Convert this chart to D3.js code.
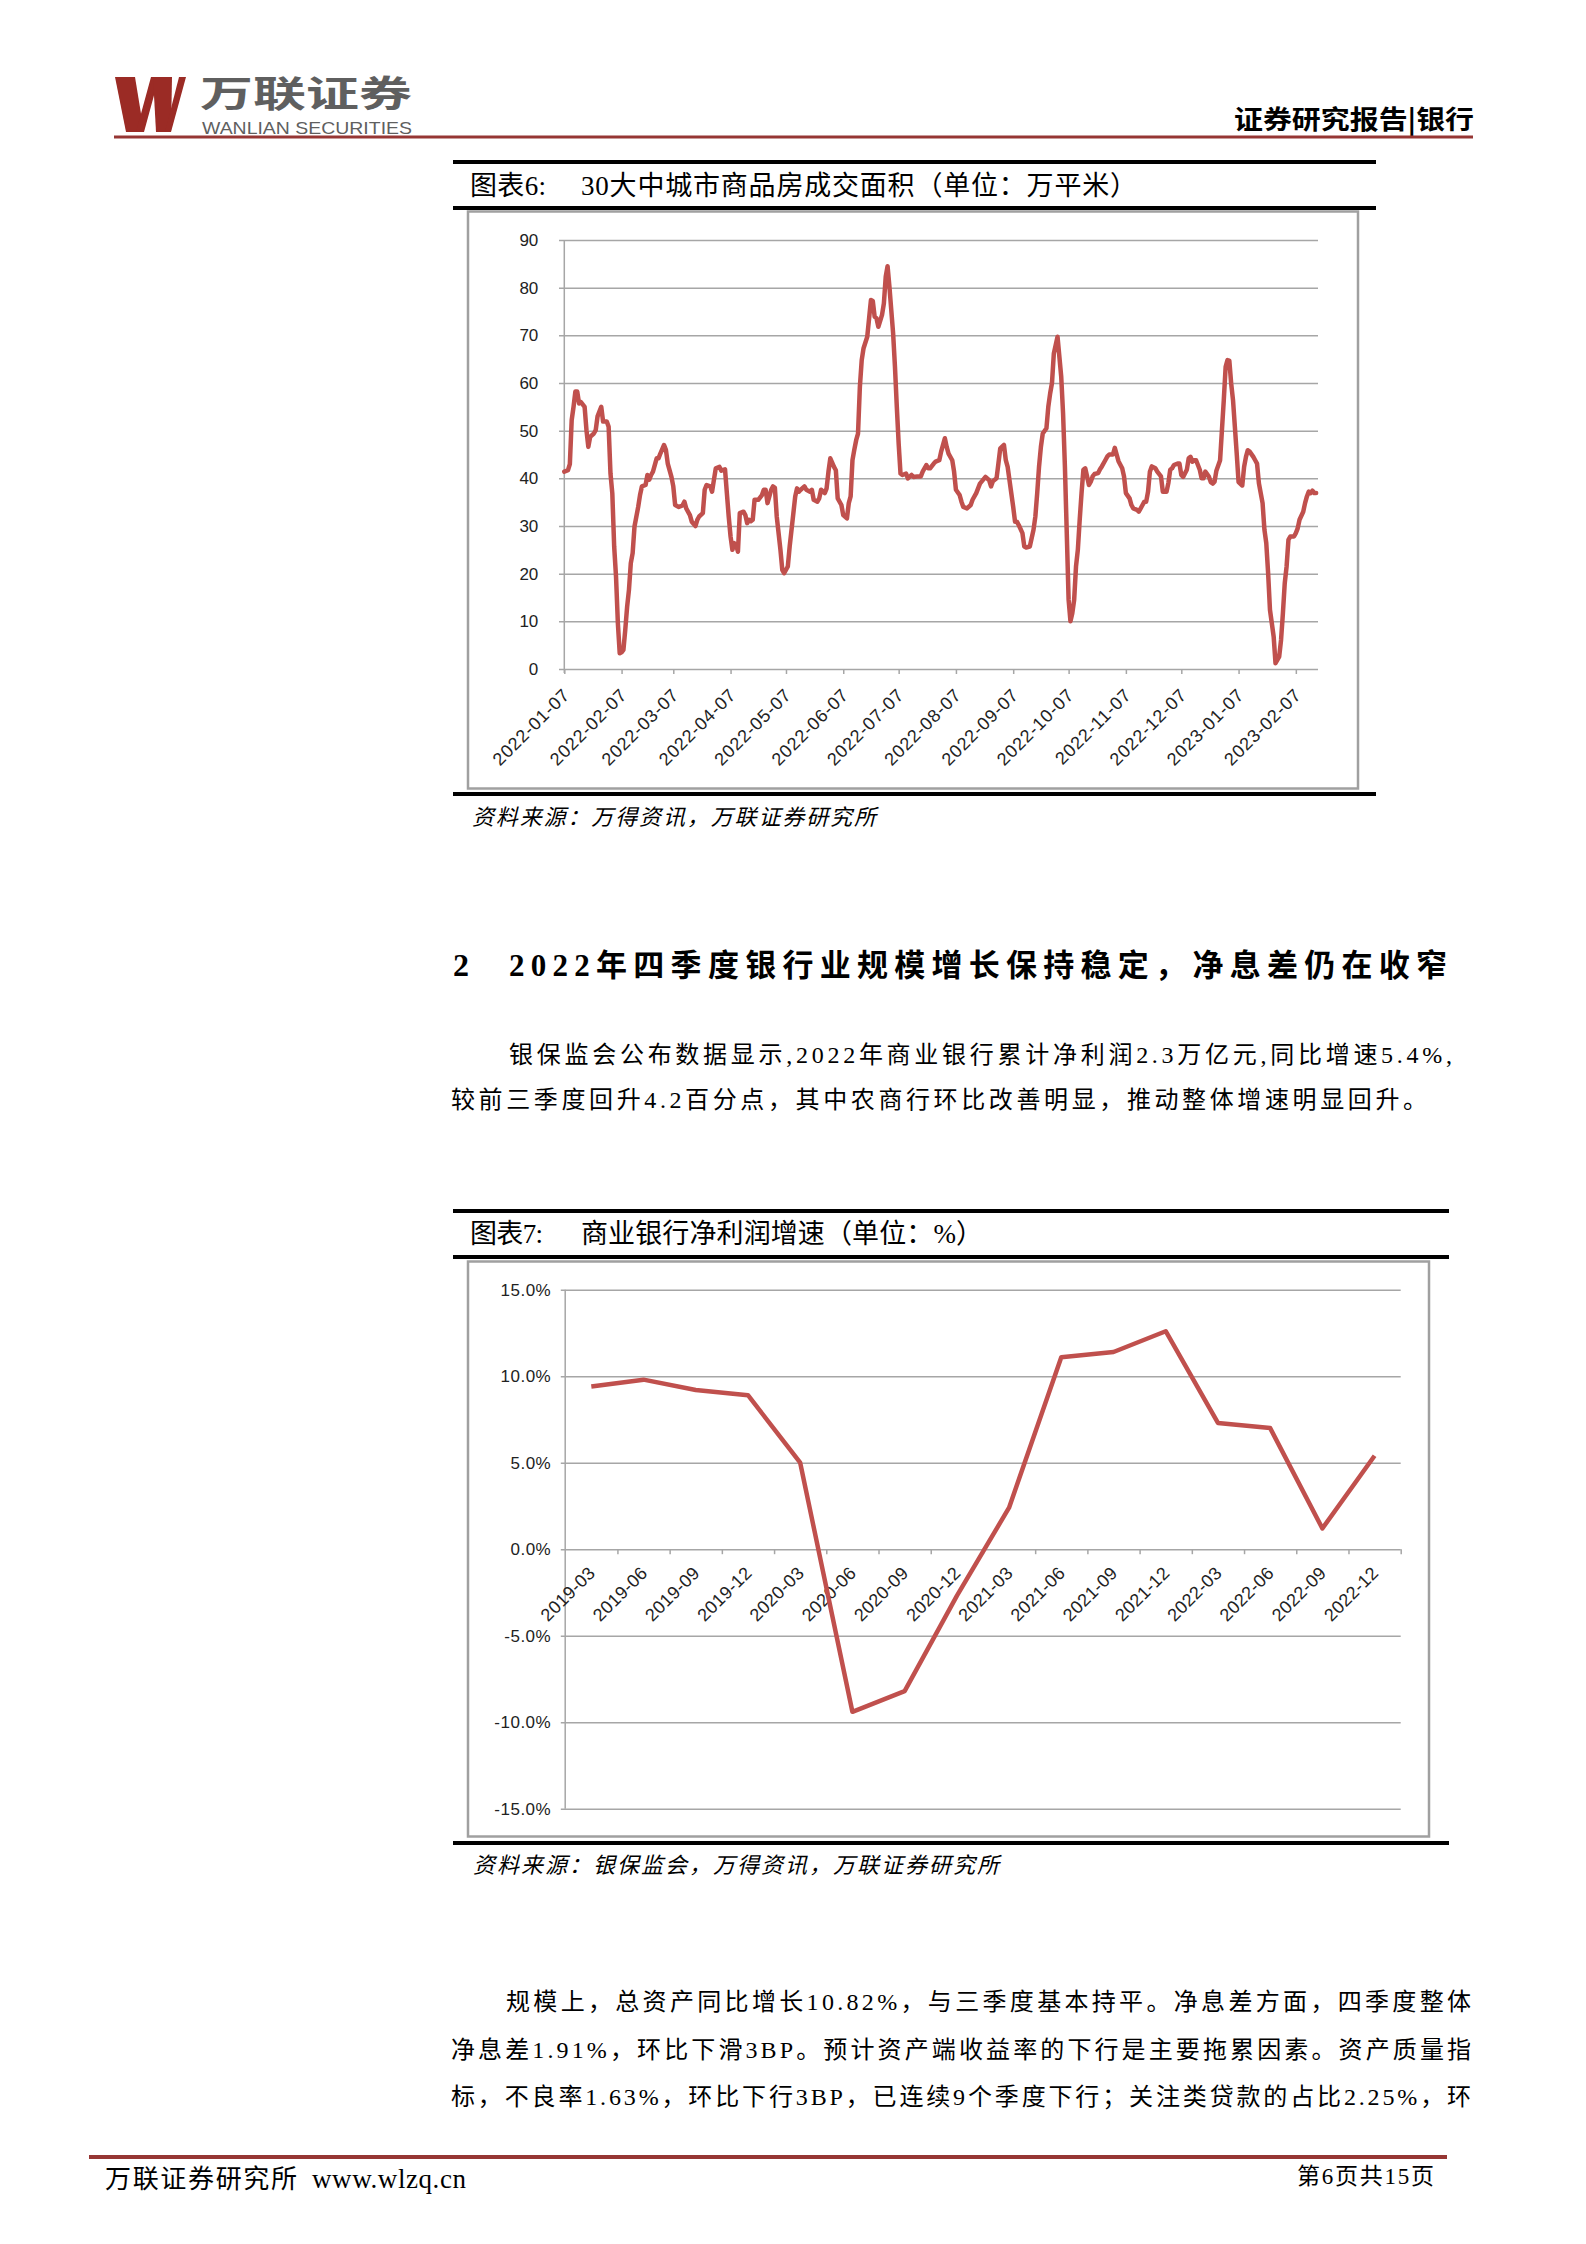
<!DOCTYPE html>
<html><head><meta charset="utf-8">
<script src="https://cdn.jsdelivr.net/npm/d3@7"></script>
<style>
body{margin:0;background:#fff;}
svg text{font-family:"Liberation Serif","Noto Sans CJK SC",serif;fill:#000;}
</style></head>
<body><svg id="page" width="1586" height="2244"></svg>
<script>
// ---------- Chart 6: 30 city transaction area (10k sqm), daily ----------
const areaStart = "2022-01-07";
const areaEndDay = 408;
const areaDays = [0,2,3,4,5,6,7,8,9,11,12,13,14,16,17,18,20,21,23,24,25,26,27,28,29,30,31,32,33,34,35,36,37,38,40,41,42,44,45,46,47,48,50,51,52,54,55,56,58,59,60,62,64,65,66,68,69,71,72,73,75,76,77,79,80,81,82,84,85,87,88,89,90,91,92,93,94,95,97,98,99,100,101,102,103,105,107,108,109,110,112,113,114,115,117,118,119,121,122,124,125,126,127,128,130,131,133,134,135,137,138,139,141,142,143,144,146,147,148,150,151,153,154,155,156,157,158,159,160,161,162,164,165,166,167,168,169,170,172,173,174,175,176,177,178,179,180,181,182,183,185,186,188,189,191,193,194,196,197,198,200,201,203,204,206,207,208,210,211,212,214,215,216,218,220,221,223,225,228,230,231,232,234,235,236,238,239,240,241,242,243,244,245,246,248,249,250,252,254,255,256,257,258,259,261,262,263,264,265,267,268,269,270,271,272,273,274,275,276,277,278,279,280,281,282,283,284,285,286,287,289,290,291,293,294,295,297,298,299,300,302,303,304,306,307,308,310,311,313,314,315,316,317,318,320,321,323,324,326,327,328,329,330,332,333,334,335,337,338,339,340,341,342,344,345,346,347,349,350,351,352,353,355,356,357,358,359,360,361,362,363,364,365,367,368,369,370,371,373,374,375,376,378,379,380,381,382,384,385,387,388,389,390,391,392,393,395,396,397,398,400,401,402,403,404,405,406,407];
const areaValues = [41.4,41.7,43,52.2,55,58.2,58.2,55.7,56,55,50.1,46.6,48.7,49.4,50.1,53,55,51.9,51.9,50.8,41,36.8,25.7,19.4,9.6,3.3,3.5,4,8.2,13,16.6,22.2,24.3,29.9,34,36.5,38.3,38.6,40.7,39.7,40.7,41.4,44.2,44.2,45.2,47,46,43.1,40.3,38.3,34.4,34,34.3,35.1,33.7,32.3,30.9,30,31.3,32,32.7,37.6,38.6,38.3,37.2,39.7,42.1,42.4,41.6,41.9,36.9,32,27.8,25,26.4,26.1,24.6,32.7,33,32.3,30.6,31.3,31,31.3,35.5,35.5,36.5,37.6,37.6,34.8,37.6,38.3,38,32,25,20.8,20.1,21.5,25.7,32.7,36.2,37.9,37.2,37.6,38.3,37.6,37.2,37.6,35.5,35.1,35.8,37.6,36.9,37.9,41.4,44.2,42.4,41.7,35.8,34.4,32.3,31.6,34.8,36.2,43.8,46,48,49.4,59.2,64.8,67.3,69.7,73.6,77.4,77.2,73.9,73.6,71.8,74.3,76.7,82.3,84.5,80.2,75.3,70.4,63.4,55,47.3,41,40.7,41,40,40.7,40.3,40.4,40.4,41.4,42.8,42.1,42.1,43.1,43.5,43.8,45.6,48.4,46.6,45.2,43.8,41.4,37.6,36.5,35.1,34,33.7,34.4,35.5,36.9,38.9,40.3,39.6,38.3,39.4,40,43.1,46.3,47,43.8,42.4,39.6,36.8,34,30.9,30.9,30.2,28.5,25.7,25.5,25.7,29.2,32,36.9,42.5,46.6,49.4,50.5,55,57.8,60,66.2,69.7,65.5,61.3,53.6,42.4,28.5,14.5,10,11.7,14.5,21.5,25,31.3,36.9,41.8,42.1,40.4,38.6,39.3,40.4,40.9,41.1,41.9,42.5,43.9,44.6,45,45,46.4,45,43.6,42.1,40.4,36.9,35.8,34.4,33.7,33.4,33,34.4,35.1,35.1,37.2,41.4,42.5,42.1,41.4,40.4,37.2,37.2,39,41.8,42.1,42.8,43.1,43.1,40.7,40.3,41.8,44.2,44.5,43.5,43.8,43.8,41.8,40,40,41.4,40.3,39.2,38.9,39.3,41.6,43.8,50.1,56.4,63.4,64.8,64.7,59.9,56.4,50.8,45.2,39.2,38.5,42.4,44.5,45.9,45.6,44.5,43.8,43.1,39,34.8,29.2,26.4,20.1,12.4,6.8,1.2,2.6,6.1,11.7,18,21.5,27.1,27.8,27.8,28.5,29.5,31.3,33,34.8,36.2,37.2,36.9,37.4,36.9,36.9];
const areaTickLabels = ["2022-01-07","2022-02-07","2022-03-07","2022-04-07","2022-05-07","2022-06-07","2022-07-07","2022-08-07","2022-09-07","2022-10-07","2022-11-07","2022-12-07","2023-01-07","2023-02-07"];
const areaYTicks = [0,10,20,30,40,50,60,70,80,90];

// ---------- Chart 7: commercial bank net profit growth (%) ----------
const profitQuarters = ["2019-03","2019-06","2019-09","2019-12","2020-03","2020-06","2020-09","2020-12","2021-03","2021-06","2021-09","2021-12","2022-03","2022-06","2022-09","2022-12"];
const profitGrowth = [9.4,9.8,9.2,8.9,5.0,-9.4,-8.2,-2.7,2.4,11.1,11.4,12.6,7.3,7.0,1.2,5.4];
const profitYTicks = [-15,-10,-5,0,5,10,15];

const RED = "#c0504d", GRID = "#a6a6a6", BRAND = "#963634";
const svg = d3.select("#page");

// ---------- Header ----------
const logo = svg.append("g").attr("fill", "#9b2b25");
[
  [[115,77],[135,77],[144,132],[126,132]],
  [[136,132],[144,132],[159,77],[151,77]],
  [[153,77],[172,77],[171,132],[156,132]],
  [[165,132],[171,132],[186,77],[179,77]]
].forEach(p => logo.append("polygon").attr("points", p.map(q => q.join(",")).join(" ")));
svg.append("text").attr("x",200).attr("y",107).attr("textLength",212).attr("lengthAdjust","spacingAndGlyphs")
  .style("font-family","'Noto Sans CJK SC'").style("font-weight",700).style("font-size","36px").style("fill","#5f5f5f").text("万联证券");
svg.append("text").attr("x",202).attr("y",134).attr("textLength",210).attr("lengthAdjust","spacingAndGlyphs")
  .style("font-family","'Liberation Sans'").style("font-size","17px").style("fill","#5f5f5f").text("WANLIAN SECURITIES");
svg.append("text").attr("x",1234).attr("y",129).attr("textLength",240).attr("lengthAdjust","spacingAndGlyphs")
  .style("font-family","'Noto Sans CJK SC'").style("font-weight",700).style("font-size","26px").text("证券研究报告|银行");
svg.append("line").attr("x1",114).attr("x2",1473).attr("y1",137).attr("y2",137).attr("stroke",BRAND).attr("stroke-width",3);

function rule(x1, x2, y) {
  svg.append("rect").attr("x",x1).attr("y",y).attr("width",x2-x1).attr("height",4).attr("fill","#000");
}
function txt(x, y, s, size, len, opts = {}) {
  const t = svg.append("text").attr("x",x).attr("y",y).style("font-size",size+"px").text(s);
  if (len) t.attr("textLength",len).attr("lengthAdjust","spacing");
  if (opts.bold) t.style("font-weight",700);
  if (opts.italic) t.style("font-style","italic");
  if (opts.family) t.style("font-family",opts.family);
  return t;
}

// ---------- Chart 6 frame ----------
rule(453,1376,160); rule(453,1376,206); rule(453,1376,792);
txt(470,195,"图表6:",27,76);
txt(581,195,"30大中城市商品房成交面积（单位：万平米）",27,556);
svg.append("rect").attr("x",468).attr("y",211.5).attr("width",890).attr("height",577).attr("fill","none").attr("stroke","#a0a0a0").attr("stroke-width",2.5);
txt(472,825,"资料来源：万得资讯，万联证券研究所",22,404,{italic:true});

const parse = d3.utcParse("%Y-%m-%d");
const t0 = parse(areaStart);
const areaDates = areaDays.map(d => d3.utcDay.offset(t0, d));
const x1 = d3.scaleUtc().domain([t0, d3.utcDay.offset(t0, areaEndDay)]).range([564.3, 1318]);
const y1 = d3.scaleLinear().domain([0, 90]).range([669, 240]);
const g1 = svg.append("g");

g1.append("g").attr("transform","translate(1318,0)")
  .call(d3.axisLeft(y1).tickValues(areaYTicks).tickSize(1318-559).tickFormat(""))
  .call(g => g.select(".domain").remove())
  .selectAll("line").attr("stroke",GRID).attr("stroke-width",1.5);
const gy1 = g1.append("g").attr("transform","translate(564.3,0)")
  .call(d3.axisLeft(y1).tickValues(areaYTicks).tickSize(0).tickPadding(26));
gy1.select(".domain").remove();
gy1.selectAll("text").style("font-family","'Liberation Sans'").style("font-size","17px").style("fill","#222");
g1.append("line").attr("x1",x1.range()[0]).attr("x2",x1.range()[0]).attr("y1",y1(90)).attr("y2",y1(0)+4)
  .attr("stroke",GRID).attr("stroke-width",1.5);

const gx1 = g1.append("g").attr("transform","translate(0,669)")
  .call(d3.axisBottom(x1).tickValues(areaTickLabels.map(parse)).tickSize(5).tickFormat(d3.utcFormat("%Y-%m-%d")));
gx1.select(".domain").remove();
gx1.selectAll("line").attr("stroke",GRID).attr("stroke-width",1.5);
gx1.selectAll("text").attr("y",0).attr("dy",0).attr("text-anchor","end")
  .attr("transform","translate(6,27) rotate(-45)")
  .style("font-family","'Liberation Sans'").style("font-size","18px").style("letter-spacing","0.8px").style("fill","#222");

g1.append("path").datum(areaValues)
  .attr("d", d3.line().x((d,i) => x1(areaDates[i])).y(d => y1(d)))
  .attr("fill","none").attr("stroke",RED).attr("stroke-width",4.5).attr("stroke-linejoin","round").attr("stroke-linecap","round");

// ---------- Section text ----------
txt(453,976,"2",32,null,{bold:true});
txt(509,976,"2022年四季度银行业规模增长保持稳定，净息差仍在收窄",31,938,{bold:true});
txt(509,1063,"银保监会公布数据显示,2022年商业银行累计净利润2.3万亿元,同比增速5.4%,",24,943);
txt(451,1108,"较前三季度回升4.2百分点，其中农商行环比改善明显，推动整体增速明显回升。",24,976);

// ---------- Chart 7 frame ----------
rule(453,1449,1209); rule(453,1449,1255); rule(453,1449,1841);
txt(470,1243,"图表7:",27,73);
txt(581,1243,"商业银行净利润增速（单位：%）",27,402);
svg.append("rect").attr("x",468).attr("y",1261.5).attr("width",961).attr("height",575).attr("fill","none").attr("stroke","#a0a0a0").attr("stroke-width",2.5);
txt(473,1873,"资料来源：银保监会，万得资讯，万联证券研究所",22,526,{italic:true});

const x2 = d3.scaleBand().domain(profitQuarters).range([565.2, 1400.7]).padding(0);
const xb = d3.scaleLinear().domain([0, profitQuarters.length]).range(x2.range());
const y2 = d3.scaleLinear().domain([-15, 15]).range([1808.7, 1289.7]);
const g2 = svg.append("g");

g2.append("g").attr("transform","translate(1400.7,0)")
  .call(d3.axisLeft(y2).tickValues(profitYTicks).tickSize(1400.7-560.8).tickFormat(""))
  .call(g => g.select(".domain").remove())
  .selectAll("line").attr("stroke",GRID).attr("stroke-width",1.5);
const gy2 = g2.append("g").attr("transform","translate(565.2,0)")
  .call(d3.axisLeft(y2).tickValues(profitYTicks).tickSize(0).tickPadding(14).tickFormat(d => d.toFixed(1) + "%"));
gy2.select(".domain").remove();
gy2.selectAll("text").style("font-family","'Liberation Sans'").style("font-size","17px").style("letter-spacing","0.5px").style("fill","#222");
g2.append("line").attr("x1",565.2).attr("x2",565.2).attr("y1",y2(15)).attr("y2",y2(-15))
  .attr("stroke",GRID).attr("stroke-width",1.5);

const gt2 = g2.append("g").attr("transform",`translate(0,${y2(0)})`)
  .call(d3.axisBottom(xb).tickValues(d3.range(1, profitQuarters.length + 1)).tickSize(5).tickFormat(""));
gt2.select(".domain").remove();
gt2.selectAll("line").attr("stroke",GRID).attr("stroke-width",1.5);
const gx2 = g2.append("g").attr("transform",`translate(0,${y2(0)})`)
  .call(d3.axisBottom(x2).tickSize(0));
gx2.select(".domain").remove();
gx2.selectAll("text").attr("y",0).attr("dy",0).attr("text-anchor","end")
  .attr("transform","translate(5,25) rotate(-45)")
  .style("font-family","'Liberation Sans'").style("font-size","18px").style("letter-spacing","0.3px").style("fill","#222");

g2.append("path").datum(profitGrowth)
  .attr("d", d3.line().x((d,i) => x2(profitQuarters[i]) + x2.bandwidth()/2).y(d => y2(d)))
  .attr("fill","none").attr("stroke",RED).attr("stroke-width",4.5).attr("stroke-linejoin","round");

// ---------- Bottom paragraph ----------
txt(506,2010,"规模上，总资产同比增长10.82%，与三季度基本持平。净息差方面，四季度整体",24,965);
txt(451,2058,"净息差1.91%，环比下滑3BP。预计资产端收益率的下行是主要拖累因素。资产质量指",24,1020);
txt(451,2105,"标，不良率1.63%，环比下行3BP，已连续9个季度下行；关注类贷款的占比2.25%，环",24,1020);

// ---------- Footer ----------
svg.append("line").attr("x1",89).attr("x2",1447).attr("y1",2157).attr("y2",2157).attr("stroke",BRAND).attr("stroke-width",4);
txt(105,2188,"万联证券研究所",26,192);
txt(312,2188,"www.wlzq.cn",27,154);
txt(1297,2184,"第6页共15页",23,137);
</script>
</body></html>
